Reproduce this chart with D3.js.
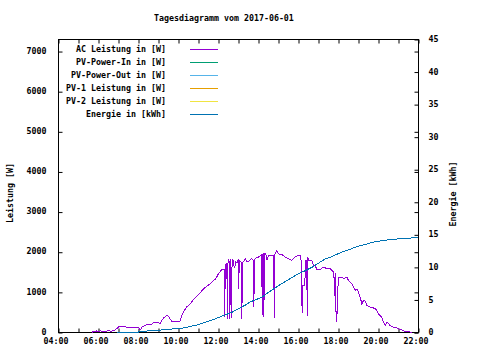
<!DOCTYPE html>
<html><head><meta charset="utf-8">
<script src="https://cdn.jsdelivr.net/npm/d3@7"></script>
<style>
html,body{margin:0;padding:0;background:#fff;}
svg text{font-family:"DejaVu Sans Mono","Liberation Mono",monospace;font-size:8.3px;font-weight:bold;fill:#000;}
</style></head>
<body><svg id="c" width="480" height="360"></svg>
<script>
const title = "Tagesdiagramm vom 2017-06-01";
const leftLabel = "Leistung [W]";
const rightLabel = "Energie [kWh]";
const legendLabels = ["AC Leistung in [W]","PV-Power-In in [W]","PV-Power-Out in [W]","PV-1 Leistung in [W]","PV-2 Leistung in [W]","Energie in [kWh]"];
const legendColors = ["#9400d3","#009e73","#56b4e9","#e69f00","#f0e442","#0072b2"];
const leftTicks = [0,1000,2000,3000,4000,5000,6000,7000];
const rightTicks = [0,5,10,15,20,25,30,35,40,45];
const xTickLabels = ["04:00","06:00","08:00","10:00","12:00","14:00","16:00","18:00","20:00","22:00"];

const acTimes = ["05:40","05:45","05:50","05:55","06:00","06:05","06:10","06:20","06:30","06:40","06:50","07:00","07:10","07:20","07:30","07:40","07:50","08:00","08:05","08:10","08:20","08:30","08:40","08:45","08:55","09:05","09:10","09:15","09:25","09:30","09:35","09:40","10:00","10:05","10:10","10:15","10:25","10:35","10:45","10:55","11:05","11:15","11:25","11:35","11:45","11:50","12:00","12:10","12:18","12:19","12:20","12:22","12:25","12:27","12:28","12:30","12:33","12:34","12:36","12:38","12:40","12:43","12:48","12:52","12:56","13:00","13:01","13:02","13:05","13:09","13:10","13:12","13:16","13:20","13:25","13:30","13:35","13:40","13:45","13:46","13:48","13:50","14:00","14:06","14:10","14:11","14:13","14:14","14:16","14:18","14:22","14:25","14:30","14:40","14:46","14:47","14:49","14:55","15:00","15:10","15:20","15:30","15:40","15:50","16:00","16:06","16:08","16:11","16:12","16:19","16:21","16:25","16:26","16:28","16:30","16:40","16:45","16:50","16:55","17:05","17:15","17:25","17:35","17:45","17:46","17:49","17:51","17:53","17:55","17:57","18:00","18:10","18:15","18:25","18:30","18:40","18:45","18:50","18:55","19:00","19:05","19:10","19:15","19:20","19:25","19:35","19:40","19:50","19:55","20:00","20:05","20:10","20:15","20:20","20:25","20:35","20:45","20:50","21:00","21:10","21:20","21:30","21:40"];
const acPower = [0,30,15,40,20,45,30,35,40,35,60,140,160,140,120,125,115,130,60,130,175,210,200,260,255,225,300,360,430,400,330,280,275,290,425,520,640,715,820,900,990,1090,1150,1215,1300,1315,1465,1565,1565,380,1600,1690,1710,340,1700,1820,1750,340,1830,350,1600,1820,1600,1760,1740,1840,1090,1800,1780,1750,340,1755,1760,1840,1760,1770,1810,1840,1790,630,1800,1850,1880,1920,1950,425,1950,1980,380,1960,1960,1800,1920,1930,1930,360,1950,2045,1960,1940,1880,1840,1795,1880,1920,1920,1780,480,1170,1170,1800,1800,400,1880,1795,1795,1670,1670,1570,1570,1630,1590,1590,1505,1470,920,1470,260,300,920,1380,1380,1340,1380,1295,1215,1130,1050,1080,1005,880,715,800,780,675,630,630,590,550,465,425,380,260,175,260,175,130,130,90,65,25,25,0,10];

const energyTimes = ["06:56","08:00","08:01","08:50","09:20","10:10","11:00","11:50","12:40","13:20","13:35","14:10","14:25","15:00","15:50","16:40","17:20","17:35","18:10","19:00","19:50","20:40","21:30","22:00"];
const energyValues = [0,0.02,0.15,0.3,0.45,0.65,1.2,2.1,3.1,4.2,4.7,5.4,6.0,7.2,8.75,10.0,11.3,11.55,12.35,13.25,13.95,14.3,14.5,14.55];

const parseT = d3.timeParse("%H:%M");
const svg = d3.select("#c");
const L = 58.5, R = 418.5, T = 39.5, B = 332.5;

const x = d3.scaleTime().domain([parseT("04:00"), parseT("22:00")]).range([L, R]);
const yL = d3.scaleLinear().domain([0, 7300]).range([B, T]);
const yR = d3.scaleLinear().domain([0, 45]).range([B, T]);

const hourTicks = d3.range(4, 23).map(h => parseT(String(h).padStart(2,"0") + ":00"));
const fmt = d3.timeFormat("%H:%M");

function clean(g){ g.select(".domain").remove(); g.selectAll("line").attr("stroke","#000"); g.selectAll("text").attr("fill","#000"); g.attr("font-family",null).attr("font-size",null); }

svg.append("g").attr("transform",`translate(0,${B})`)
  .call(d3.axisBottom(x).tickValues(hourTicks).tickSizeInner(-4).tickSizeOuter(0).tickPadding(6)
    .tickFormat(d => xTickLabels.includes(fmt(d)) ? fmt(d) : ""))
  .call(clean).call(g => g.selectAll("text").attr("dx", -3));
svg.append("g").attr("transform",`translate(0,${T})`)
  .call(d3.axisTop(x).tickValues(hourTicks).tickSizeInner(-4).tickSizeOuter(0).tickFormat(""))
  .call(clean);
svg.append("g").attr("transform",`translate(${L},0)`)
  .call(d3.axisLeft(yL).tickValues(leftTicks).tickSizeInner(-4).tickSizeOuter(0).tickPadding(12).tickFormat(d3.format("d")))
  .call(clean).call(g => g.selectAll("text").attr("dy","0.2em"));
svg.append("g").attr("transform",`translate(${R},0)`)
  .call(d3.axisRight(yL).tickValues(leftTicks).tickSizeInner(-4).tickSizeOuter(0).tickFormat(""))
  .call(clean);
svg.append("g").attr("transform",`translate(${R},0)`)
  .call(d3.axisRight(yR).tickValues(rightTicks).tickSizeInner(-4).tickSizeOuter(0).tickPadding(10).tickFormat(d3.format("d")))
  .call(clean).call(g => g.selectAll("text").attr("dy","0.25em"));

svg.append("rect").attr("x",L).attr("y",T).attr("width",R-L).attr("height",B-T)
  .attr("fill","none").attr("stroke","#000").attr("stroke-width",1);

const acData = acTimes.map((t,i) => ({t: parseT(t), v: acPower[i]}));
const enData = energyTimes.map((t,i) => ({t: parseT(t), v: energyValues[i]}));
svg.append("path").datum(acData).attr("fill","none").attr("stroke",legendColors[0]).attr("stroke-width",1)
  .attr("shape-rendering","crispEdges")
  .attr("d", d3.line().x(d => x(d.t)).y(d => yL(d.v)));
svg.append("path").datum(enData).attr("fill","none").attr("stroke",legendColors[5]).attr("stroke-width",1)
  .attr("shape-rendering","crispEdges")
  .attr("d", d3.line().x(d => x(d.t)).y(d => yR(d.v)));

const leg = svg.append("g");
legendLabels.forEach((lab,i) => {
  const yy = 49.5 + i*13;
  leg.append("text").attr("x",166).attr("y",yy+2.5).attr("text-anchor","end").text(lab);
  leg.append("line").attr("x1",190).attr("x2",218).attr("y1",yy).attr("y2",yy)
    .attr("stroke",legendColors[i]).attr("stroke-width",1);
});

svg.append("text").attr("x",154).attr("y",21).text(title);
svg.append("text").attr("transform","translate(13,193) rotate(-90)").attr("text-anchor","middle").text(leftLabel);
svg.append("text").attr("transform","translate(456,194) rotate(-90)").attr("text-anchor","middle").text(rightLabel);
</script></body></html>
